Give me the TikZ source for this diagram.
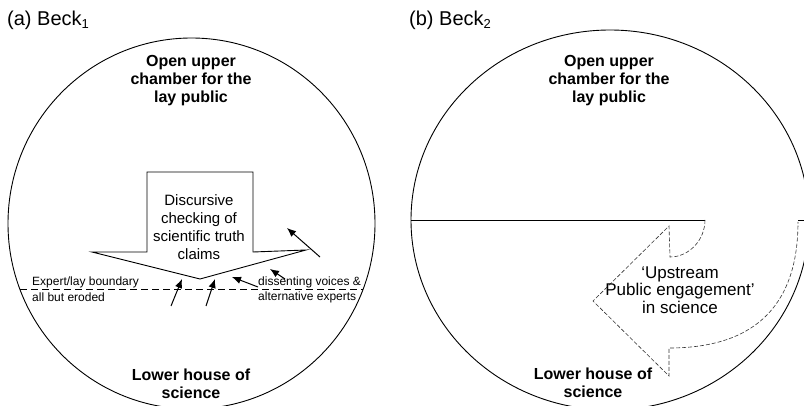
\documentclass[tikz,border=0pt]{standalone}
\usepackage{fontspec}
\setmainfont{Liberation Sans}
\usetikzlibrary{arrows.meta}
\newcommand\lowidx[1]{\raisebox{-0.35ex}{\fontsize{13}{13}\selectfont #1}}
\begin{document}
\begin{tikzpicture}[x=1pt,y=-1pt,
  outline/.style={line width=0.9pt},
  boldtxt/.style={font=\fontsize{16}{18}\selectfont\bfseries, align=center, inner sep=0pt},
  plaintxt/.style={font=\fontsize{15}{18}\selectfont, align=center, inner sep=0pt},
  uptxt/.style={font=\fontsize{17}{17.5}\selectfont, align=center, inner sep=0pt},
  smalltxt/.style={font=\fontsize{12}{15.5}\selectfont, align=left, inner sep=0pt, anchor=west},
  paneltitle/.style={font=\fontsize{20}{24}\selectfont, anchor=west, inner sep=0pt},
  pointer/.style={line width=1pt, -{Latex[length=9pt,width=7.5pt]}},
  bounddash/.style={line width=0.7pt, dash pattern=on 7pt off 4pt},
  finedash/.style={line width=0.6pt, dash pattern=on 4pt off 2pt, black!80}]
\useasboundingbox (0,0) rectangle (804,406);
\clip (0,0) rectangle (804,406);

% ---------- panel (a) ----------
\node[paneltitle] (ta) at (7,20) {(a) Beck\lowidx{1}};
\draw[outline] (191.5,223.5) ellipse [x radius=183.5, y radius=185.5];
\draw[outline] (147,172) -- (253,172) -- (253,252) -- (306,250) -- (200,279)
  -- (92,252) -- (147,252) -- cycle;
\draw[bounddash] (20,289) -- (363,289);

\node[boldtxt] (upA) at (191,81) {Open upper\\chamber for the\\lay public};
\node[plaintxt] (disc) at (199,227) {Discursive\\checking of\\scientific truth\\claims};
\node[smalltxt] (bound) at (32,289) {Expert/lay boundary\\all but eroded};
\node[smalltxt] (diss) at (258,290) {dissenting voices \&\\alternative experts};
\node[boldtxt] (lowA) at (191,384) {Lower house of\\science};

\coordinate (a1s) at (320,257); \coordinate (a1e) at (287,228);
\coordinate (a2s) at (285,279); \coordinate (a2e) at (270,269);
\coordinate (a3s) at (258,287); \coordinate (a3e) at (232,277);
\coordinate (a4s) at (171,306); \coordinate (a4e) at (182,279);
\coordinate (a5s) at (206,306); \coordinate (a5e) at (215,279);
\draw[pointer] (a1s) -- (a1e);
\draw[pointer] (a2s) -- (a2e);
\draw[pointer] (a3s) -- (a3e);
\draw[pointer] (a4s) -- (a4e);
\draw[pointer] (a5s) -- (a5e);

% ---------- panel (b) ----------
\node[paneltitle] (tb) at (409,20) {(b) Beck\lowidx{2}};
\draw[outline] (610,220) ellipse [x radius=199, y radius=190];
\coordinate (hl) at (411,220);
\coordinate (hr) at (705,220);
\coordinate (hr2) at (798,220);
\coordinate (edge) at (810,220);
\draw[outline] (hl) -- (hr);
\draw[outline] (hr2) -- (edge);
\draw[finedash] (hr) .. controls (705,240) and (689,257) .. (670,257)
  -- (669,226) -- (593,301) -- (669,376) -- (669,348)
  .. controls (750,348) and (798,310) .. (798,222);

\node[boldtxt] (upB) at (609,81) {Open upper\\chamber for the\\lay public};
\node[uptxt] (ups) at (680,290) {‘Upstream\\Public engagement’\\in science};
\node[boldtxt] (lowB) at (593,383) {Lower house of\\science};
\end{tikzpicture}
\end{document}
